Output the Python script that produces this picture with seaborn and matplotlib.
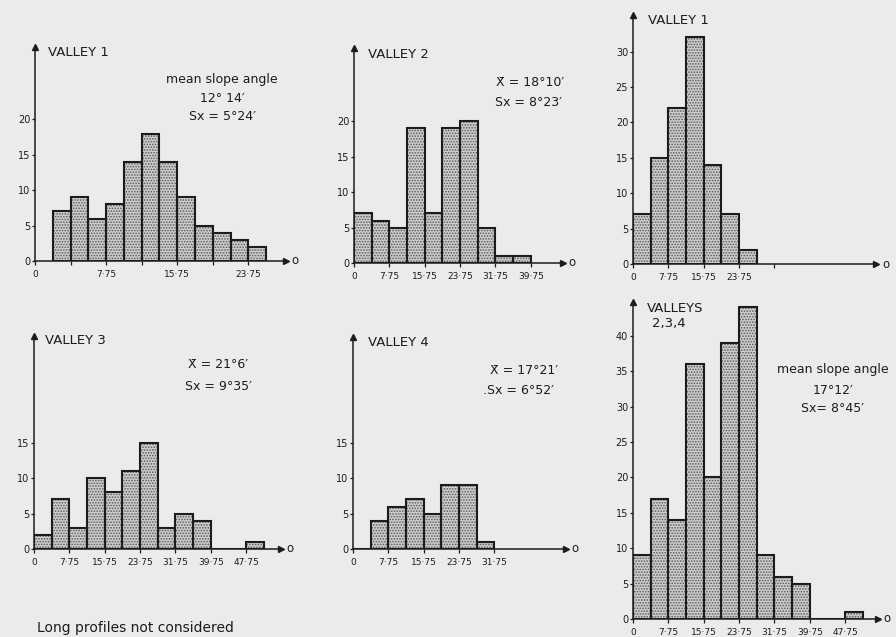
import numpy as np
import pandas as pd
import matplotlib
matplotlib.use("Agg")
import matplotlib.pyplot as plt
import seaborn as sns

# ---------------- data (counts per class) ----------------
# Valley 1, 2-degree classes starting at 1.75
valley1_fine_counts = [7, 9, 6, 8, 14, 18, 14, 9, 5, 4, 3, 2]
# 4-degree classes starting at the origin (-0.25 .. 3.75, 3.75 .. 7.75, ...)
valley2_counts = [7, 6, 5, 19, 7, 19, 20, 5, 1, 1]
valley1_counts = [7, 15, 22, 32, 14, 7, 2]
valley3_counts = [2, 7, 3, 10, 8, 11, 15, 3, 5, 4, 0, 0, 1]
valley4_counts = [0, 4, 6, 7, 5, 9, 9, 1]
valleys234_counts = [9, 17, 14, 36, 20, 39, 44, 9, 6, 5, 0, 0, 1]

fine_start, fine_width = 1.75, 2.0
coarse_start, coarse_width = -0.25, 4.0

xtick_vals_tl = [-0.25, 7.75, 15.75, 23.75]
xtick_labels_tl = ["0", "7·75", "15·75", "23·75"]
xtick_vals_long = [-0.25, 7.75, 15.75, 23.75, 31.75, 39.75, 47.75]
xtick_labels_long = ["0", "7·75", "15·75", "23·75", "31·75", "39·75", "47·75"]

# ---------------- style ----------------
BG = "#ebebeb"
FILL = "#cdcdcd"
DOTS = "#5a5a5a"
INK = "#1c1c1c"

sns.set_theme(style="ticks")
plt.rcParams.update({
    "hatch.linewidth": 0.8,
    "axes.edgecolor": INK,
    "xtick.color": INK,
    "ytick.color": INK,
    "text.color": INK,
})
plt.rcParams["font.family"] = ["DejaVu Sans"]

W, H = 896, 637
fig = plt.figure(figsize=(W / 100, H / 100), dpi=100, facecolor=BG)

YPX = 7.08  # pixels per count


def make_axes(x0, yb, pxu, xmax, ymax):
    xmin = -0.25
    w = (xmax - xmin) * pxu
    h = ymax * YPX
    ax = fig.add_axes([x0 / W, 1 - yb / H, w / W, h / H])
    ax.set_facecolor("none")
    return ax, (xmin, xmax), (0, ymax)


def draw_bars(ax, counts, start, width):
    counts = np.asarray(counts, dtype=float)
    n = len(counts)
    lefts = start + width * np.arange(n)
    df = pd.DataFrame({"angle": lefts + width / 2, "n": counts})
    rng = (start, start + width * n)
    sns.histplot(data=df, x="angle", weights="n", binwidth=width, binrange=rng,
                 ax=ax, stat="count", element="bars", fill=True, color=FILL,
                 edgecolor=DOTS, linewidth=0, hatch="......", alpha=1)
    sns.histplot(data=df, x="angle", weights="n", binwidth=width, binrange=rng,
                 ax=ax, stat="count", element="bars", fill=False, color=INK,
                 edgecolor=INK, linewidth=1.5)


def style_axes(ax, xlim, ylim, yticks, xticks, xlabels, minor=None):
    ax.set_xlim(*xlim)
    ax.set_ylim(*ylim)
    ax.set_xlabel("")
    ax.set_ylabel("")
    for s in ["top", "right"]:
        ax.spines[s].set_visible(False)
    for s in ["left", "bottom"]:
        ax.spines[s].set_linewidth(1.1)
        ax.spines[s].set_color(INK)
    ax.set_yticks(yticks)
    ax.set_yticklabels([str(v) for v in yticks])
    ax.set_xticks(xticks)
    ax.set_xticklabels(xlabels)
    if minor:
        ax.set_xticks(minor, minor=True)
    ax.tick_params(axis="y", direction="out", length=2.5, width=0.9, pad=1,
                   labelsize=7)
    ax.tick_params(axis="x", which="both", direction="out", length=3,
                   width=0.9, pad=3.5, labelsize=6.5)
    # arrow heads
    ax.plot(1, 0, ">", color=INK, ms=4.5, transform=ax.transAxes, clip_on=False)
    ax.plot(0, 1, "^", color=INK, ms=4.5, transform=ax.transAxes, clip_on=False)
    ax.annotate("o", xy=(1, 0), xycoords="axes fraction", xytext=(4, 0),
                textcoords="offset points", ha="left", va="center",
                fontsize=8.5, color=INK)


def ftext(x, y, s, **kw):
    fig.text(x / W, 1 - y / H, s, **kw)


# ---- top left: Valley 1 (2-degree classes) ----
ax, xl, yl = make_axes(35, 261, 8.89, 28.0, 30.2)
draw_bars(ax, valley1_fine_counts, fine_start, fine_width)
style_axes(ax, xl, yl, [0, 5, 10, 15, 20], xtick_vals_tl, xtick_labels_tl,
           minor=[3.75, 11.75, 19.75])

# ---- top middle: Valley 2 ----
ax, xl, yl = make_axes(354, 263, 4.42, 47.0, 30.3)
draw_bars(ax, valley2_counts, coarse_start, coarse_width)
style_axes(ax, xl, yl, [0, 5, 10, 15, 20], xtick_vals_long[:6],
           xtick_labels_long[:6])

# ---- top right: Valley 1 (4-degree classes) ----
ax, xl, yl = make_axes(633, 264, 4.42, 54.8, 35.2)
draw_bars(ax, valley1_counts, coarse_start, coarse_width)
style_axes(ax, xl, yl, [0, 5, 10, 15, 20, 25, 30], xtick_vals_long[:4],
           xtick_labels_long[:4], minor=[31.75])

# ---- bottom left: Valley 3 ----
ax, xl, yl = make_axes(34, 549, 4.42, 55.7, 30.1)
draw_bars(ax, valley3_counts, coarse_start, coarse_width)
style_axes(ax, xl, yl, [0, 5, 10, 15], xtick_vals_long, xtick_labels_long)

# ---- bottom middle: Valley 4 ----
ax, xl, yl = make_axes(353, 549, 4.42, 48.0, 29.9)
draw_bars(ax, valley4_counts, coarse_start, coarse_width)
style_axes(ax, xl, yl, [0, 5, 10, 15], xtick_vals_long[:5],
           xtick_labels_long[:5])

# ---- bottom right: Valleys 2,3,4 ----
ax, xl, yl = make_axes(633, 619, 4.42, 55.2, 44.8)
draw_bars(ax, valleys234_counts, coarse_start, coarse_width)
style_axes(ax, xl, yl, [0, 5, 10, 15, 20, 25, 30, 35, 40], xtick_vals_long,
           xtick_labels_long)

# ---------------- texts ----------------
TS = 9.5
AS = 9
ftext(48, 53, "VALLEY 1", fontsize=TS, ha="left", va="center")
ftext(222, 80, "mean slope angle", fontsize=AS, ha="center", va="center")
ftext(222, 98, "12° 14′", fontsize=AS, ha="center", va="center")
ftext(222, 117, "Sx = 5°24′", fontsize=AS, ha="center", va="center")

ftext(368, 55, "VALLEY 2", fontsize=TS, ha="left", va="center")
ftext(530, 82, "X\u0304 = 18°10′", fontsize=AS, ha="center", va="center")
ftext(528, 102, "Sx = 8°23′", fontsize=AS, ha="center", va="center")

ftext(648, 20, "VALLEY 1", fontsize=TS, ha="left", va="center")

ftext(45, 341, "VALLEY 3", fontsize=TS, ha="left", va="center")
ftext(218, 365, "X\u0304 = 21°6′", fontsize=AS, ha="center", va="center")
ftext(218, 387, "Sx = 9°35′", fontsize=AS, ha="center", va="center")

ftext(368, 342, "VALLEY 4", fontsize=TS, ha="left", va="center")
ftext(524, 370, "X\u0304 = 17°21′", fontsize=AS, ha="center", va="center")
ftext(518, 390, ".Sx = 6°52′", fontsize=AS, ha="center", va="center")

ftext(647, 308, "VALLEYS", fontsize=TS, ha="left", va="center")
ftext(652, 323, "2,3,4", fontsize=TS, ha="left", va="center")
ftext(833, 370, "mean slope angle", fontsize=AS, ha="center", va="center")
ftext(833, 390, "17°12′", fontsize=AS, ha="center", va="center")
ftext(833, 408, "Sx= 8°45′", fontsize=AS, ha="center", va="center")

ftext(37, 628, "Long profiles not considered", fontsize=10, ha="left",
      va="center")

fig.savefig("out.png", dpi=100, facecolor=BG)
